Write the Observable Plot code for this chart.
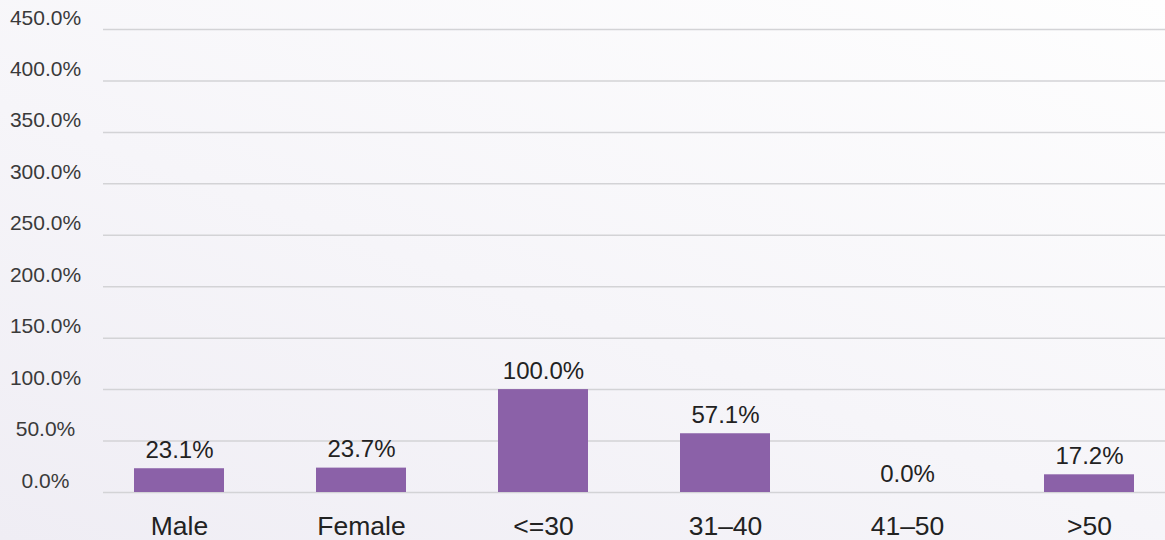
<!DOCTYPE html>
<html>
<head>
<meta charset="utf-8">
<script src="https://cdn.jsdelivr.net/npm/d3@7"></script>
<script src="https://cdn.jsdelivr.net/npm/@observablehq/plot@0.6"></script>
<style>
  html, body { margin: 0; padding: 0; }
  body {
    width: 1165px; height: 540px; overflow: hidden;
    background: linear-gradient(20deg, #efedf4 0%, #f6f5f9 45%, #fefefe 100%);
    font-family: "Liberation Sans", Arial, Helvetica, sans-serif;
  }
  svg { background: transparent !important; display: block; }
</style>
</head>
<body>
<div id="chart"></div>
<script>
const categories = ["Male", "Female", "<=30", "31\u201340", "41\u201350", ">50"];
const values = [23.1, 23.7, 100.0, 57.1, 0.0, 17.2];
const yTicks = [0, 50, 100, 150, 200, 250, 300, 350, 400, 450];

const data = categories.map((c, i) => ({category: c, value: values[i]}));
const fmt = v => v.toFixed(1) + "%";

const chart = Plot.plot({
  width: 1165,
  height: 540,
  marginTop: 29,
  marginBottom: 48,
  marginLeft: 103,
  marginRight: 0,
  style: {background: "transparent", fontFamily: "'Liberation Sans', Arial, Helvetica, sans-serif"},
  x: {domain: categories, range: [86.75, 1181.75], paddingInner: 0.507, paddingOuter: 0.2535, label: null},
  y: {domain: [0, 450], label: null},
  marks: [
    Plot.ruleY(yTicks, {stroke: "#d3d3d6", strokeWidth: 1.5}),
    Plot.barY(data, {x: "category", y: "value", fill: "#8b61a8"}),
    Plot.text(data, {x: "category", y: "value", text: d => fmt(d.value), lineAnchor: "bottom", dy: -11, fontSize: 24, fill: "#222"}),
    Plot.axisY(yTicks, {tickSize: 0, tickPadding: 0, tickFormat: fmt, textAnchor: "middle", dx: -58, lineAnchor: "bottom", dy: -5, fontSize: 21, fill: "#3a3a3a"}),
    Plot.axisX({tickSize: 0, tickPadding: 24, fontSize: 26.5, fill: "#222"})
  ]
});
document.getElementById("chart").appendChild(chart);
</script>
</body>
</html>
